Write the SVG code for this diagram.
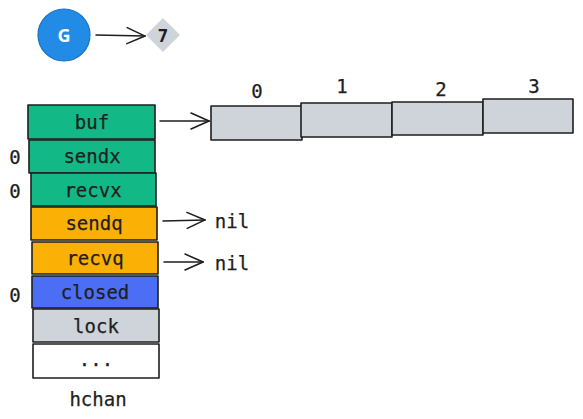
<svg xmlns="http://www.w3.org/2000/svg" width="583" height="419" viewBox="0 0 583 419">
<defs>
<style>
.box{stroke:#1e1e1e;stroke-width:1.6;stroke-linejoin:round}
.green{fill:#12b886}
.yellow{fill:#fab005}
.blue{fill:#4c6ef5}
.gray{fill:#ced4da}
.white{fill:#ffffff}
.t{font-family:"DejaVu Sans Mono","Liberation Mono",monospace;font-size:19px;fill:#1e1e1e;text-anchor:middle;stroke:#1e1e1e;stroke-width:0.25}
.conn{stroke:#1e1e1e;stroke-width:1.5;fill:none;stroke-linecap:round}
</style>
<marker id="ah" viewBox="0 0 20 20" refX="19" refY="10" markerWidth="20" markerHeight="20" markerUnits="userSpaceOnUse" orient="auto">
<path d="M1 2 L19 10 L1 18" fill="none" stroke="#1e1e1e" stroke-width="1.5" stroke-linecap="round"/>
</marker>
</defs>
<rect width="583" height="419" fill="#ffffff"/>
<g id="G">
<circle cx="64" cy="35" r="26" fill="#228be6" stroke="#1971c2" stroke-width="1.2"/>
<text x="64" y="42" font-family="Open Sans, Noto Sans, sans-serif" font-size="18" font-weight="bold" fill="#ffffff" text-anchor="middle">G</text>
</g>
<g id="seven">
<polygon points="163,18 180,35 163,52 146,35" fill="#ced4da"/>
<text x="163" y="42" font-family="DejaVu Sans Mono, monospace" font-size="18" font-weight="bold" fill="#1e1e1e" text-anchor="middle">7</text>
</g>
<g id="hchan">
<g id="buf"><rect class="box green" x="28" y="105" width="127" height="34"/><text class="t" x="92" y="129">buf</text></g>
<g id="sendx"><rect class="box green" x="29" y="140" width="126" height="33"/><text class="t" x="92" y="163">sendx</text></g>
<g id="recvx"><rect class="box green" x="31" y="173" width="125" height="33"/><text class="t" x="93" y="197">recvx</text></g>
<g id="sendq"><rect class="box yellow" x="31" y="207" width="126" height="33"/><text class="t" x="94" y="230">sendq</text></g>
<g id="recvq"><rect class="box yellow" x="32" y="242" width="126" height="32"/><text class="t" x="95" y="265">recvq</text></g>
<g id="closed"><rect class="box blue" x="32" y="276" width="126" height="32"/><text class="t" x="95" y="299">closed</text></g>
<g id="lock"><rect class="box gray" x="33" y="309" width="126" height="33"/><text class="t" x="96" y="333">lock</text></g>
<g id="more"><rect class="box white" x="33" y="344" width="126" height="34"/><text class="t" x="96" y="366">...</text></g>
<text class="t" x="98" y="406">hchan</text>
</g>
<g id="zeros">
<text class="t" x="15" y="164">0</text>
<text class="t" x="15" y="198">0</text>
<text class="t" x="15" y="302">0</text>
</g>
<g id="array">
<g id="a0"><rect class="box gray" x="211" y="106" width="91" height="34"/><text class="t" x="257" y="98">0</text></g>
<g id="a1"><rect class="box gray" x="301" y="103" width="91" height="34"/><text class="t" x="342" y="93">1</text></g>
<g id="a2"><rect class="box gray" x="392" y="102" width="91" height="33"/><text class="t" x="441" y="96">2</text></g>
<g id="a3"><rect class="box gray" x="483" y="99" width="90" height="34"/><text class="t" x="534" y="93">3</text></g>
</g>
<g id="nils">
<text class="t" x="232" y="228">nil</text>
<text class="t" x="232" y="270">nil</text>
</g>
<g id="connectors">
<line class="conn" x1="96" y1="35" x2="145" y2="36" marker-end="url(#ah)"/>
<line class="conn" x1="160" y1="121" x2="209" y2="121" marker-end="url(#ah)"/>
<line class="conn" x1="163" y1="221" x2="205" y2="220" marker-end="url(#ah)"/>
<line class="conn" x1="164" y1="262" x2="203" y2="262" marker-end="url(#ah)"/>
</g>
</svg>
